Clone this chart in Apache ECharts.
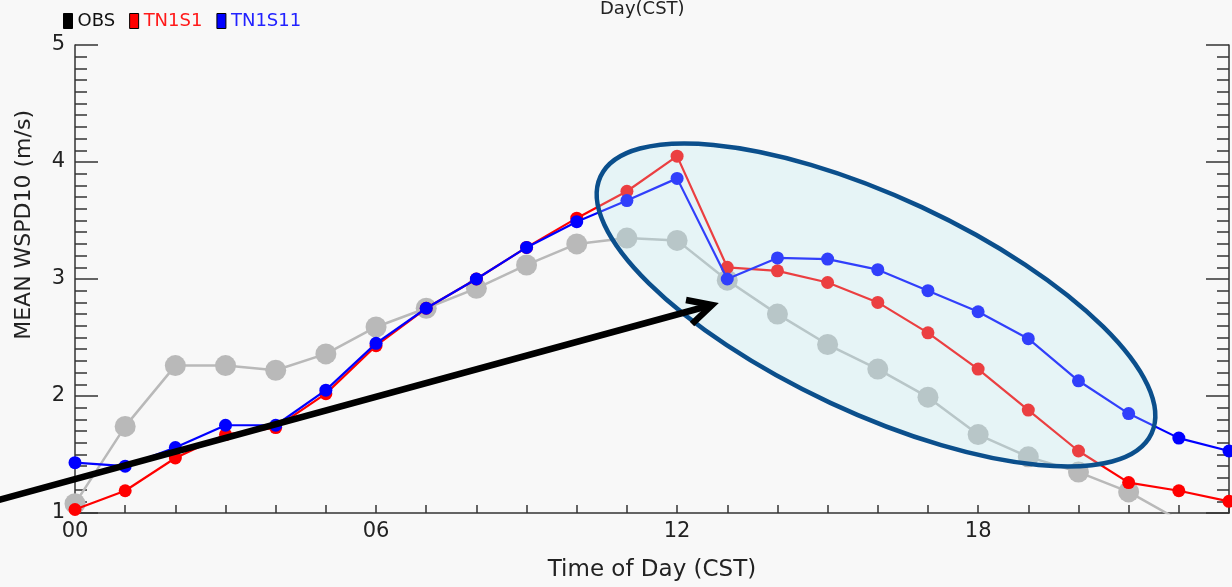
<!DOCTYPE html>
<html>
<head>
<meta charset="utf-8">
<script src="https://cdn.jsdelivr.net/npm/echarts@6/dist/echarts.min.js"></script>
<style>
html,body{margin:0;padding:0;background:#f8f8f8;}
#chart{width:1232px;height:587px;}
</style>
</head>
<body>
<div id="chart"></div>
<script>
const hours = [0,1,2,3,4,5,6,7,8,9,10,11,12,13,14,15,16,17,18,19,20,21,22,23];
const obs    = [1.08,1.74,2.26,2.26,2.22,2.36,2.59,2.75,2.92,3.12,3.30,3.35,3.33,2.99,2.70,2.44,2.23,1.99,1.67,1.48,1.35,1.18,0.94,0.80];
const tn1s1  = [1.03,1.19,1.47,1.67,1.73,2.02,2.43,2.75,3.00,3.27,3.52,3.75,4.05,3.10,3.07,2.97,2.80,2.54,2.23,1.88,1.53,1.26,1.19,1.10];
const tn1s11 = [1.43,1.40,1.56,1.75,1.75,2.05,2.45,2.75,3.00,3.27,3.49,3.67,3.86,3.00,3.18,3.17,3.08,2.90,2.72,2.49,2.13,1.85,1.64,1.53];
const seriesNames = ['OBS','TN1S1','TN1S11'];
const xTickLabels = {0:'00',6:'06',12:'12',18:'18'};
const yTitle = 'MEAN WSPD10 (m/s)';
const xTitle = 'Time of Day (CST)';
const topTitle = 'Day(CST)';

const FONT = 'DejaVu Sans';
const axisCol = '#333';
const pair = a => hours.map((h,i)=>[h,a[i]]);

const chart = echarts.init(document.getElementById('chart'), null, {renderer:'canvas'});
chart.setOption({
  backgroundColor:'#f8f8f8',
  animation:false,
  textStyle:{fontFamily:FONT},
  title:{text:topTitle,left:600,top:0,textStyle:{fontFamily:FONT,fontSize:18,fontWeight:'normal',color:'#222'},padding:0},
  legend:{
    left:63, top:12, icon:'rect', itemWidth:9, itemHeight:15, itemGap:14, padding:0,
    textStyle:{fontFamily:FONT,fontSize:18},
    data:[
      {name:seriesNames[0], itemStyle:{color:'#000',borderColor:'#000',borderWidth:1}, textStyle:{color:'#111'}},
      {name:seriesNames[1], itemStyle:{color:'#ff0000',borderColor:'#000',borderWidth:1}, textStyle:{color:'#ff1a1a'}},
      {name:seriesNames[2], itemStyle:{color:'#0000ff',borderColor:'#000',borderWidth:1}, textStyle:{color:'#2222ff'}}
    ]
  },
  grid:{left:75,right:0,top:45,bottom:67,containLabel:false},
  xAxis:{
    type:'value', min:0, max:23, interval:1,
    name:xTitle, nameLocation:'middle', nameGap:46,
    nameTextStyle:{fontFamily:FONT,fontSize:23,color:'#222'},
    axisLine:{lineStyle:{color:axisCol,width:1.5}},
    axisTick:{inside:true,length:8,lineStyle:{color:axisCol,width:1.5}},
    axisLabel:{margin:8,fontSize:21,color:'#222',fontFamily:FONT,
      formatter:v=> (xTickLabels[v]!==undefined ? xTickLabels[v] : ''), showMaxLabel:true},
    splitLine:{show:false}
  },
  yAxis:[{
    type:'value', min:1, max:5, interval:1, position:'left',
    axisLine:{show:true,lineStyle:{color:axisCol,width:1.5}},
    axisTick:{show:true,inside:true,length:23,lineStyle:{color:axisCol,width:1.5}},
    minorTick:{show:true,splitNumber:10,length:12,lineStyle:{color:axisCol,width:1.5}},
    axisLabel:{margin:10,fontSize:21,color:'#222',fontFamily:FONT},
    splitLine:{show:false}, minorSplitLine:{show:false}
  },{
    type:'value', min:1, max:5, interval:1, position:'right',
    axisLine:{show:true,lineStyle:{color:axisCol,width:1.5}},
    axisTick:{show:true,inside:true,length:23,lineStyle:{color:axisCol,width:1.5}},
    minorTick:{show:true,splitNumber:10,length:12,lineStyle:{color:axisCol,width:1.5}},
    axisLabel:{show:false},
    splitLine:{show:false}, minorSplitLine:{show:false}
  }],
  series:[
    {name:seriesNames[0], type:'line', data:pair(obs), symbol:'circle', symbolSize:21,
     itemStyle:{color:'#b9b9b9'}, lineStyle:{color:'#b9b9b9',width:2.5}, z:2},
    {name:seriesNames[1], type:'line', data:pair(tn1s1), symbol:'circle', symbolSize:13,
     itemStyle:{color:'#ff0000'}, lineStyle:{color:'#ff0000',width:2.2}, z:3},
    {name:seriesNames[2], type:'line', data:pair(tn1s11), symbol:'circle', symbolSize:13,
     itemStyle:{color:'#0000ff'}, lineStyle:{color:'#0000ff',width:2.2}, z:4}
  ],
  graphic:[
    {type:'text', left:13, top:110, rotation:Math.PI/2, z:50,
     style:{text:yTitle, fontFamily:FONT, fontSize:22, fill:'#222'}},
    {type:'ellipse', x:876, y:305, rotation:-25*Math.PI/180, z:100,
     shape:{cx:0,cy:0,rx:304,ry:108},
     style:{fill:'rgba(181,233,241,0.27)', stroke:'#0b4f8c', lineWidth:4.5}},
    {type:'line', z:101, shape:{x1:-5,y1:501,x2:708,y2:306},
     style:{stroke:'#000',lineWidth:6.5}},
    {type:'polyline', z:101, shape:{points:[[686,300],[712,305],[692,324]]},
     style:{stroke:'#000',lineWidth:6.5,fill:null,lineJoin:'miter'}}
  ]
});
</script>
</body>
</html>
